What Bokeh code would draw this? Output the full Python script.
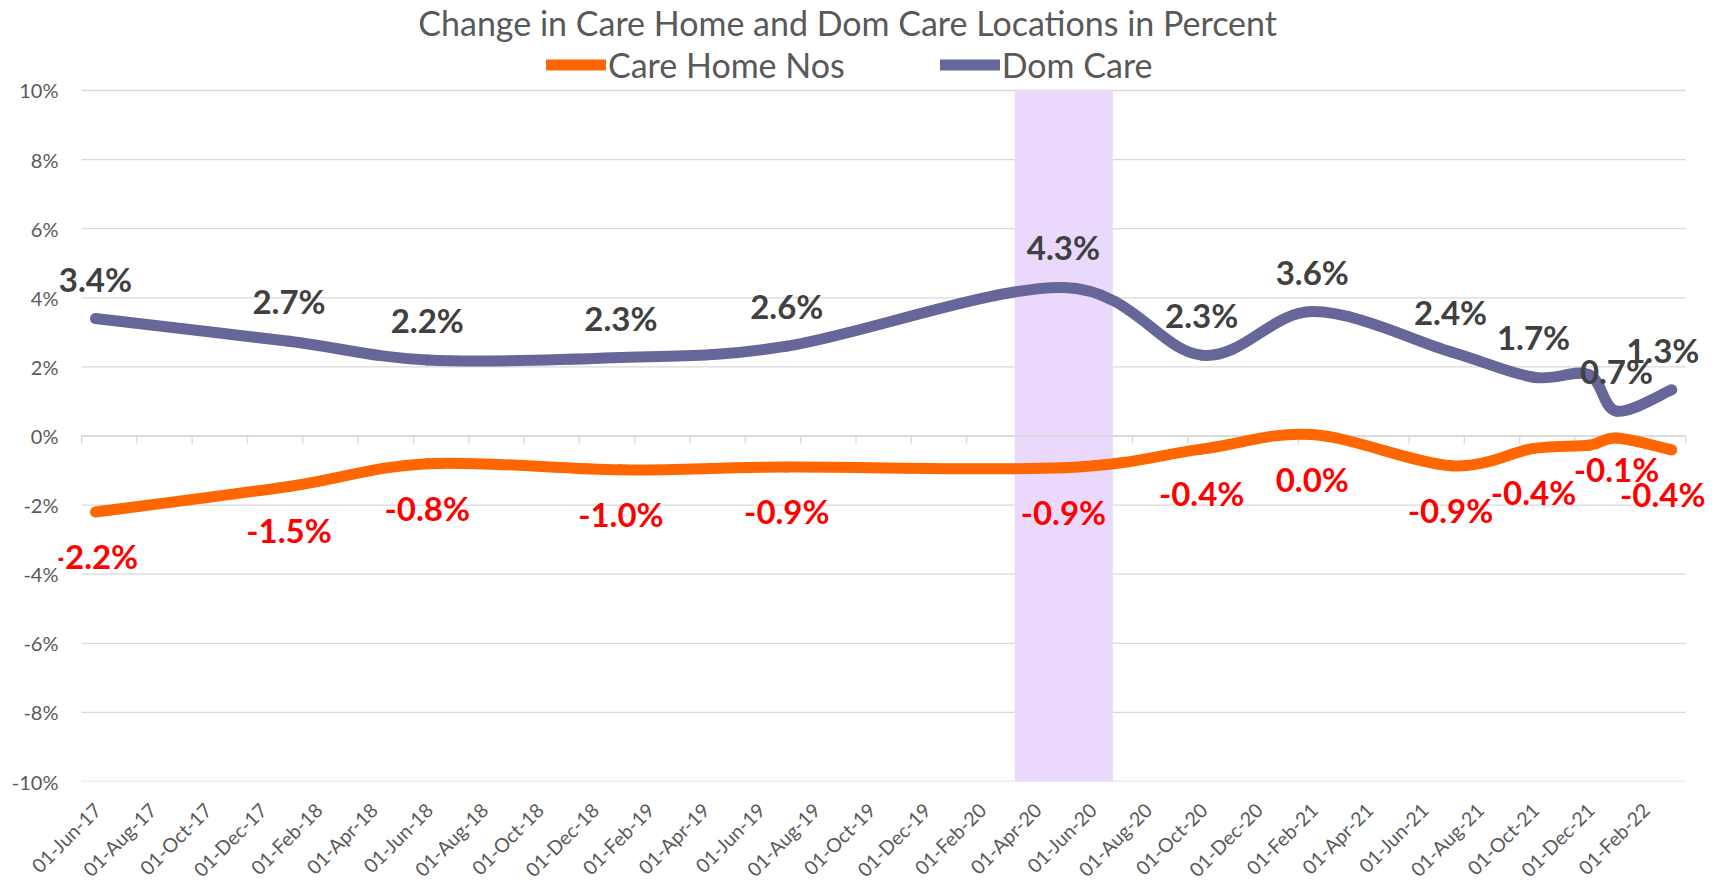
import math
from bokeh.plotting import figure
from bokeh.models import Range1d, FixedTicker, Label, Legend, LegendItem
from bokeh.embed import file_html
from bokeh.resources import INLINE
from bokeh.core.properties import value

# ---------------- data ----------------
title_text = "Change in Care Home and Dom Care Locations in Percent"
series_names = ["Care Home Nos", "Dom Care"]

x_tick_labels = [
    "01-Jun-17", "01-Aug-17", "01-Oct-17", "01-Dec-17",
    "01-Feb-18", "01-Apr-18", "01-Jun-18", "01-Aug-18", "01-Oct-18", "01-Dec-18",
    "01-Feb-19", "01-Apr-19", "01-Jun-19", "01-Aug-19", "01-Oct-19", "01-Dec-19",
    "01-Feb-20", "01-Apr-20", "01-Jun-20", "01-Aug-20", "01-Oct-20", "01-Dec-20",
    "01-Feb-21", "01-Apr-21", "01-Jun-21", "01-Aug-21", "01-Oct-21", "01-Dec-21",
    "01-Feb-22",
]
axis_first_month = "2017-06"
axis_last_month = "2022-04"

point_months = ["2017-06", "2018-01", "2018-06", "2019-01", "2019-07", "2020-05",
                "2020-10", "2021-02", "2021-07", "2021-10", "2021-12", "2022-01",
                "2022-03"]
dom_care = [3.4, 2.74, 2.2, 2.27, 2.6, 4.3, 2.34, 3.6, 2.44, 1.7, 1.78, 0.72, 1.34]
care_home = [-2.2, -1.46, -0.8, -0.98, -0.9, -0.92, -0.38, 0.04, -0.86, -0.36, -0.27, -0.06, -0.4]
labelled = [True, True, True, True, True, True, True, True, True, True, False, True, True]

y_ticks = [-10, -8, -6, -4, -2, 0, 2, 4, 6, 8, 10]
shade_period = ("2020-03-24", "2020-07-10")

# ---------------- helpers ----------------
def month_index(s):
    parts = s.split("-")
    y, m = int(parts[0]), int(parts[1])
    idx = (y - 2017) * 12 + (m - 6)
    if len(parts) == 3:
        d = int(parts[2])
        dim = [31, 29 if y % 4 == 0 else 28, 31, 30, 31, 30, 31, 31, 30, 31, 30, 31][m - 1]
        idx += (d - 1) / dim
    return idx

x0_axis = month_index(axis_first_month)
x1_axis = month_index(axis_last_month)
px = [month_index(s) + 0.5 for s in point_months]   # centre of each month bucket

def smooth_segments(xs, ys):
    n = len(xs)
    out = dict(x0=[], y0=[], x1=[], y1=[], cx0=[], cy0=[], cx1=[], cy1=[])
    for i in range(n - 1):
        a, b = max(i - 1, 0), min(i + 2, n - 1)
        out["x0"].append(xs[i]); out["y0"].append(ys[i])
        out["x1"].append(xs[i + 1]); out["y1"].append(ys[i + 1])
        out["cx0"].append(xs[i] + (xs[i + 1] - xs[a]) / 6)
        out["cy0"].append(ys[i] + (ys[i + 1] - ys[a]) / 6)
        out["cx1"].append(xs[i + 1] - (xs[b] - xs[i]) / 6)
        out["cy1"].append(ys[i + 1] - (ys[b] - ys[i]) / 6)
    return out

FONT = "Lato"
GRAY = "#595959"
GRID = "#D9D9D9"
ORANGE = "#FF6600"
PURPLE = "#666699"

# frame: the plotting area is widened so labels/title/legend are not clipped
p = figure(frame_width=1652, frame_height=773, output_backend="svg", toolbar_location=None,
           x_range=Range1d(-0.835, 58.9), y_range=Range1d(-10, 12.373),
           min_border_left=58, min_border_right=5, min_border_top=8, min_border_bottom=105)
p.outline_line_color = None
p.background_fill_color = "white"
p.xgrid.visible = False
p.ygrid.visible = False

# y axis
p.yaxis.ticker = FixedTicker(ticks=y_ticks)
p.yaxis.major_label_overrides = {t: f"{t}%" for t in y_ticks}
p.yaxis.axis_line_color = None
p.yaxis.major_tick_line_color = None
p.yaxis.minor_tick_line_color = None
p.yaxis.major_tick_out = 0
p.yaxis.major_tick_in = 0
p.yaxis.major_label_text_font = FONT
p.yaxis.major_label_text_font_size = "20px"
p.yaxis.major_label_text_color = GRAY
p.yaxis.major_label_standoff = 0

# x axis (labels only, at the bottom)
tick_bounds = [x0_axis + 2 * k for k in range(len(x_tick_labels) + 1)]
label_pos = [tick_bounds[k] + 0.57 for k in range(len(x_tick_labels))]
p.xaxis.ticker = FixedTicker(ticks=label_pos)
p.xaxis.major_label_overrides = {pos: lab for pos, lab in zip(label_pos, x_tick_labels)}
p.xaxis.major_label_orientation = math.pi / 4
p.xaxis.axis_line_color = None
p.xaxis.major_tick_line_color = None
p.xaxis.minor_tick_line_color = None
p.xaxis.major_tick_out = 0
p.xaxis.major_tick_in = 0
p.xaxis.major_label_text_font = FONT
p.xaxis.major_label_text_font_size = "19.5px"
p.xaxis.major_label_text_color = GRAY
p.xaxis.major_label_standoff = 25

# horizontal gridlines over the axis span
n_g = len(y_ticks)
p.segment(x0=[x0_axis] * n_g, y0=y_ticks, x1=[x1_axis] * n_g, y1=y_ticks,
          line_color=GRID, line_width=1.3)

# shaded period
p.quad(left=[month_index(shade_period[0])], right=[month_index(shade_period[1])],
       bottom=[y_ticks[0]], top=[y_ticks[-1]], fill_color="#EAD9FC", line_color=None)

# horizontal axis line at 0 with tick marks
p.segment(x0=[x0_axis], y0=[0], x1=[x1_axis], y1=[0], line_color=GRID, line_width=1.3)
p.segment(x0=tick_bounds, y0=[0] * len(tick_bounds), x1=tick_bounds,
          y1=[-0.22] * len(tick_bounds), line_color=GRID, line_width=1.3)

# smoothed series
care_seg = smooth_segments(px, care_home)
dom_seg = smooth_segments(px, dom_care)
r_care = p.bezier(source=care_seg, x0="x0", y0="y0", x1="x1", y1="y1",
                  cx0="cx0", cy0="cy0", cx1="cx1", cy1="cy1",
                  line_color=ORANGE, line_width=11, line_cap="round")
r_dom = p.bezier(source=dom_seg, x0="x0", y0="y0", x1="x1", y1="y1",
                 cx0="cx0", cy0="cy0", cx1="cx1", cy1="cy1",
                 line_color=PURPLE, line_width=11, line_cap="round")

# data labels (the last label is nudged inside the chart area, as the original does)
lx = [x for x, f in zip(px, labelled) if f]
dom_y = [v for v, f in zip(dom_care, labelled) if f]
care_y = [v for v, f in zip(care_home, labelled) if f]
n_l = len(lx)
x_nudge = [0] * (n_l - 1) + [-9]
care_dy = [44] * n_l
care_dy[-2] = 31
p.text(x=lx, y=dom_y, text=[f"{v:.1f}%" for v in dom_y], x_offset=x_nudge,
       text_font=value(FONT), text_font_style="bold", text_font_size="33px",
       text_color="#404040", text_align="center", text_baseline="middle", y_offset=-40)
p.text(x=lx, y=care_y, text=[f"{v:.1f}%" for v in care_y], x_offset=x_nudge,
       text_font=value(FONT), text_font_style="bold", text_font_size="33px",
       text_color="#FF0000", text_align="center", text_baseline="middle", y_offset=care_dy)

# title (inside the widened frame)
p.add_layout(Label(x=27.7, y=11.98, text=title_text,
                   text_font=FONT, text_font_size="34px", text_color=GRAY,
                   text_align="center", text_baseline="middle"))

# legend
legend = Legend(items=[LegendItem(label=series_names[0], renderers=[r_care]),
                       LegendItem(label=series_names[1], renderers=[r_dom])],
                orientation="horizontal", location=(488, 696),
                glyph_width=60, glyph_height=41, label_height=41, label_standoff=2,
                spacing=95, padding=0, margin=0,
                border_line_alpha=0, background_fill_alpha=0,
                label_text_font=FONT, label_text_font_size="34px",
                label_text_color=GRAY)
p.add_layout(legend)

open("out.html", "w").write(file_html(p, INLINE))
